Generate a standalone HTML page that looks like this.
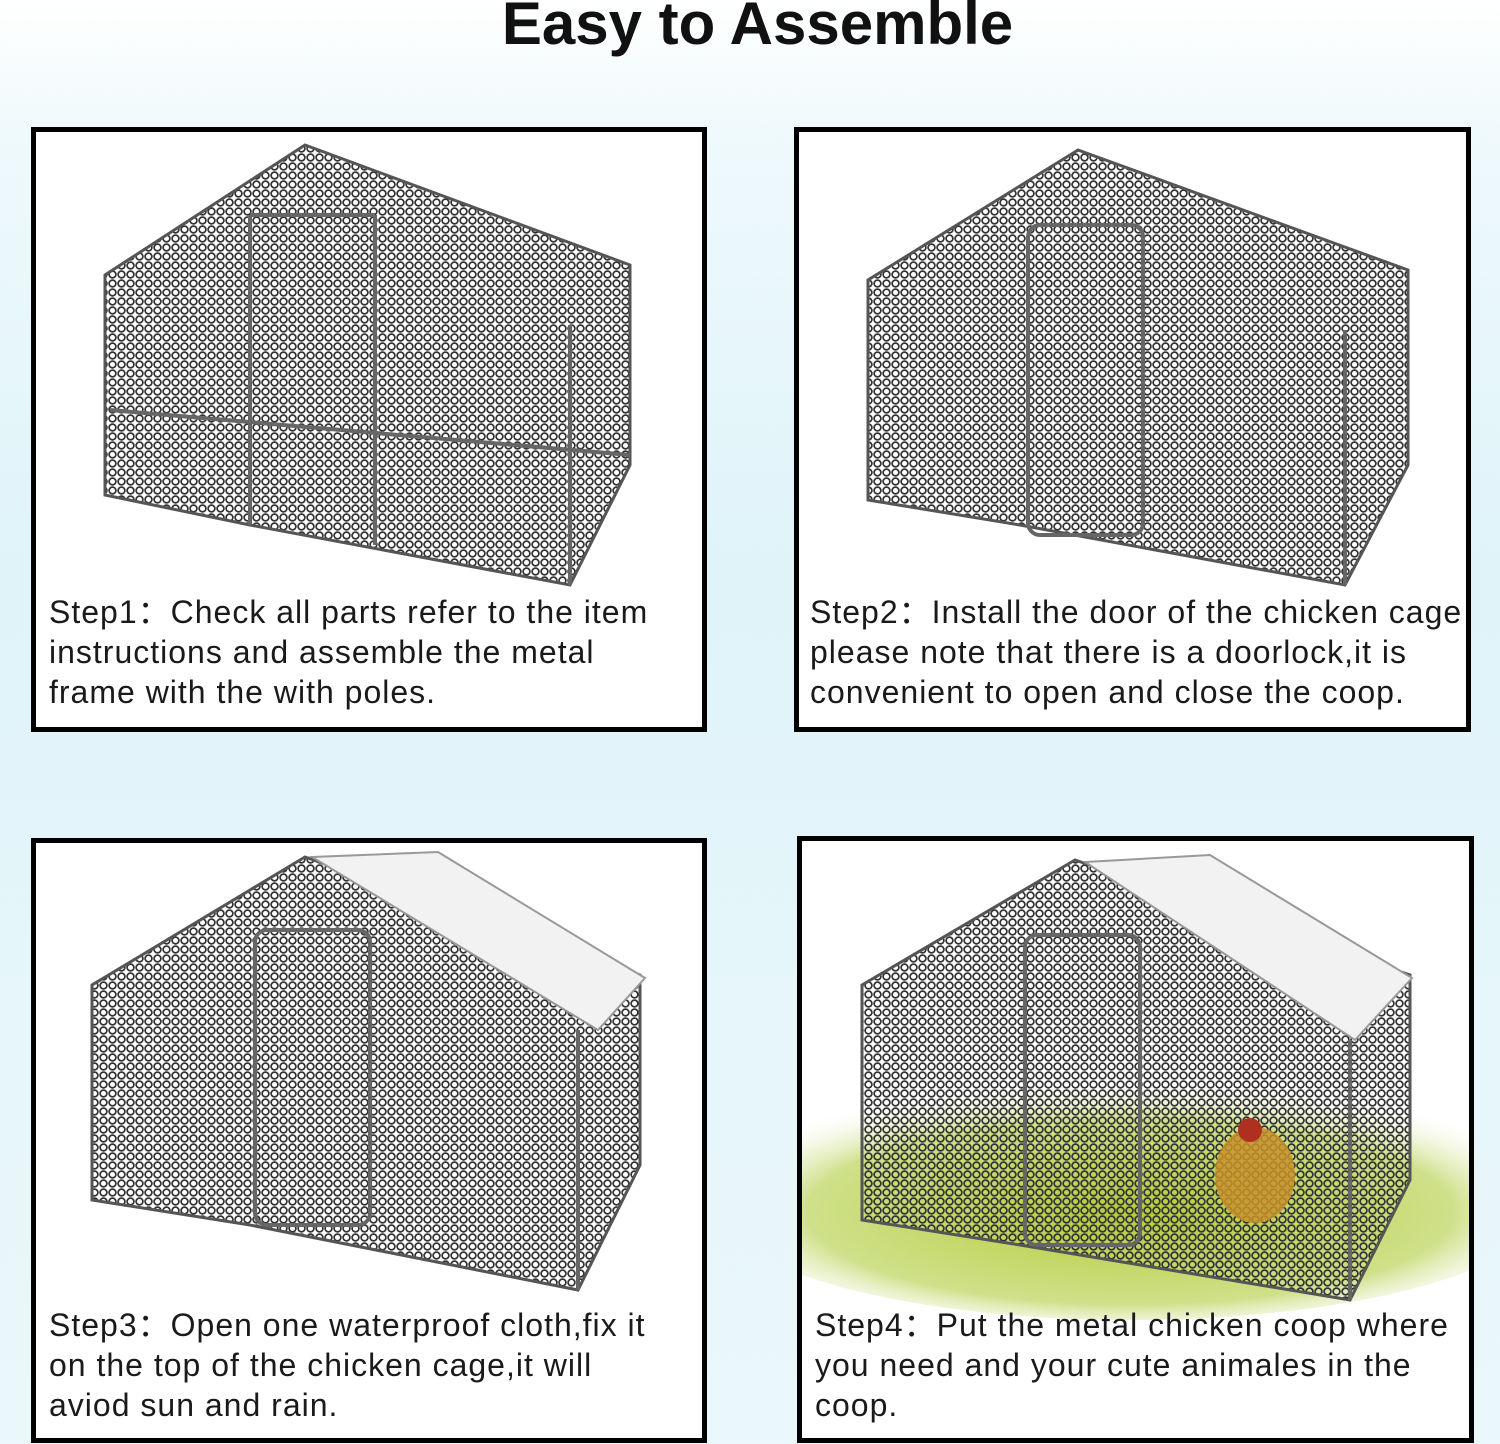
<!DOCTYPE html>
<html><head><meta charset="utf-8"><style>
html,body{margin:0;padding:0}
body{width:1500px;height:1444px;position:relative;overflow:hidden;background:linear-gradient(180deg,#ffffff 0%,#eef9fc 10%,#dff3f9 40%,#e6f6fa 70%,#eaf7fb 100%);font-family:"Liberation Sans",sans-serif}
h1{position:absolute;left:0;width:1515px;top:-11px;margin:0;text-align:center;font-size:60px;font-weight:bold;color:#111}
.box{position:absolute;border:5px solid #000;background:#fff;box-sizing:border-box}
.t{position:absolute;font-size:32px;line-height:40px;color:#1a1a1a;white-space:nowrap;letter-spacing:1px}
svg{position:absolute;left:0;top:0}
</style></head><body>
<h1>Easy to Assemble</h1>
<div class="box" style="left:31px;top:127px;width:676px;height:605px"></div>
<div class="box" style="left:794px;top:127px;width:677px;height:605px"></div>
<div class="box" style="left:31px;top:838px;width:676px;height:605px"></div>
<div class="box" style="left:797px;top:836px;width:677px;height:607px"></div>
<svg width="1500" height="1444">
<defs>
<pattern id="m" width="9" height="9" patternUnits="userSpaceOnUse"><circle cx="4.5" cy="4.5" r="3.4" fill="none" stroke="#333" stroke-width="1.7"/></pattern>
<radialGradient id="g" cx="0.5" cy="0.55" r="0.55"><stop offset="0" stop-color="#b5cc3a"/><stop offset="0.7" stop-color="#cfe08a"/><stop offset="1" stop-color="#ffffff" stop-opacity="0"/></radialGradient>
<clipPath id="c4"><rect x="802" y="841" width="667" height="597"/></clipPath>
</defs>
<g stroke="#555" stroke-width="3">
<polygon points="305,145 105,275 105,495 250,525 570,585 630,465 630,265" fill="url(#m)"/>
<polygon points="1078,150 868,280 868,500 1020,525 1345,585 1408,465 1408,270" fill="url(#m)"/>
<polygon points="305,857 92,985 92,1200 250,1225 578,1290 640,1165 640,975" fill="url(#m)"/>
<ellipse cx="1130" cy="1200" rx="420" ry="120" fill="url(#g)" stroke="none" clip-path="url(#c4)"/>
<polygon points="1075,860 862,985 862,1220 1020,1245 1350,1300 1410,1180 1410,975" fill="url(#m)"/>
</g>
<g fill="#f2f2f2" stroke="#999" stroke-width="2">
<polygon points="312,857 438,852 645,978 598,1030"/>
<polygon points="1085,862 1210,855 1412,978 1355,1040"/>
</g>
<g fill="none" stroke="#666" stroke-width="4">
<line x1="250" y1="215" x2="250" y2="525"/><line x1="375" y1="215" x2="375" y2="545"/><line x1="250" y1="215" x2="375" y2="215"/>
<line x1="110" y1="410" x2="630" y2="455"/><line x1="570" y1="325" x2="570" y2="585"/>
<rect x="1028" y="225" width="115" height="310" rx="12"/><line x1="1345" y1="330" x2="1345" y2="585"/>
<rect x="255" y="930" width="115" height="295" rx="12"/><line x1="578" y1="1030" x2="578" y2="1290"/>
<rect x="1025" y="935" width="115" height="310" rx="12"/><line x1="1350" y1="1040" x2="1350" y2="1300"/>
</g>
<ellipse cx="1255" cy="1175" rx="40" ry="48" fill="#c8922a" opacity="0.85"/>
<circle cx="1250" cy="1130" r="12" fill="#b03020"/>
</svg>
<div class="t" style="left:49px;top:592px">Step1：Check all parts refer to the item<br>instructions and assemble the metal<br>frame with the with poles.</div>
<div class="t" style="left:810px;top:592px">Step2：Install the door of the chicken cage<br>please note that there is a doorlock,it is<br>convenient to open and close the coop.</div>
<div class="t" style="left:49px;top:1305px">Step3：Open one waterproof cloth,fix it<br>on the top of the chicken cage,it will<br>aviod sun and rain.</div>
<div class="t" style="left:815px;top:1305px">Step4：Put the metal chicken coop where<br>you need and your cute animales in the<br>coop.</div>
</body></html>
